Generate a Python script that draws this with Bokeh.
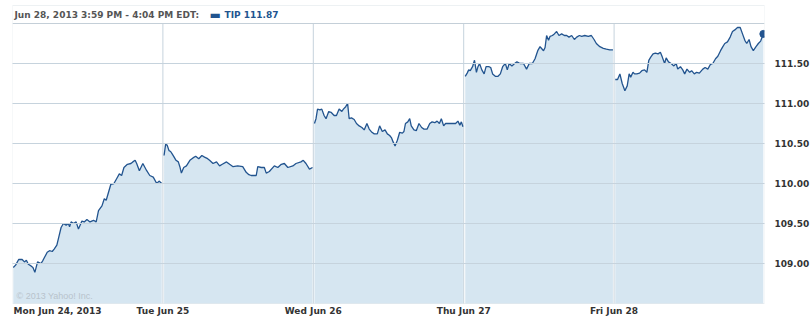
from bokeh.plotting import figure
from bokeh.models import Range1d, FixedTicker, NumeralTickFormatter, Label, Span, BoxAnnotation
from bokeh.core.properties import value
from bokeh.embed import file_html
from bokeh.resources import INLINE

# ---- data ---------------------------------------------------------------
ticker_name = "TIP"
last_price = 111.87
header_text = "Jun 28, 2013 3:59 PM - 4:04 PM EDT:"
day_labels = ["Mon Jun 24, 2013", "Tue Jun 25", "Wed Jun 26", "Thu Jun 27", "Fri Jun 28"]
session_minutes = 390  # 9:30 -> 16:00
y_ticks = [109.0, 109.5, 110.0, 110.5, 111.0, 111.5]

# minutes after the 9:30 open, and price
mon_minutes = [2, 8, 16, 25, 31, 36, 41, 48, 53, 58, 65, 74, 79, 90, 96, 103, 108, 115, 120, 126,
               132, 139, 145, 148, 152, 158, 165, 171, 180, 186, 193, 201, 210, 217, 223, 232, 238, 243,
               249, 255, 263, 270, 277, 283, 289, 298, 307, 312, 318, 322, 329, 338, 348, 356, 365, 374,
               380, 387]
mon_prices = [108.95, 108.98, 109.05, 109.05, 109.02, 109.04, 108.99, 108.97, 108.95, 108.89,
              109.02, 109.00, 109.04, 109.14, 109.16, 109.15, 109.18, 109.23, 109.33, 109.45,
              109.50, 109.48, 109.50, 109.46, 109.52, 109.50, 109.52, 109.43, 109.53, 109.52,
              109.55, 109.52, 109.54, 109.52, 109.66, 109.72, 109.81, 109.79, 109.89, 109.99,
              110.00, 110.06, 110.12, 110.10, 110.20, 110.24, 110.25, 110.27, 110.29, 110.25,
              110.16, 110.25, 110.16, 110.10, 110.08, 110.00, 110.03, 110.00]

tue_minutes = [3, 7, 11, 16, 20, 24, 28, 34, 40, 44, 48, 54, 61, 70, 78, 85, 93, 101, 108, 116,
               121, 130, 139, 147, 154, 165, 173, 182, 194, 207, 216, 223, 229, 242, 246, 255, 263,
               268, 276, 289, 298, 307, 315, 324, 337, 345, 358, 364, 371, 380, 388]
tue_prices = [110.35, 110.49, 110.48, 110.41, 110.40, 110.37, 110.34, 110.29, 110.27, 110.21,
              110.13, 110.20, 110.22, 110.29, 110.32, 110.34, 110.31, 110.35, 110.33, 110.31,
              110.29, 110.25, 110.27, 110.22, 110.24, 110.27, 110.24, 110.21, 110.22, 110.21,
              110.14, 110.11, 110.10, 110.10, 110.21, 110.20, 110.20, 110.13, 110.15, 110.22,
              110.20, 110.24, 110.25, 110.20, 110.22, 110.25, 110.27, 110.29, 110.25, 110.18,
              110.20]

wed_minutes = [3, 7, 11, 17, 22, 28, 33, 40, 46, 54, 60, 67, 74, 78, 84, 89, 93, 99, 106, 112,
               119, 126, 132, 139, 145, 152, 158, 166, 172, 179, 186, 192, 198, 203, 207, 212, 218,
               224, 231, 235, 239, 245, 250, 254, 261, 267, 274, 281, 287, 295, 302, 308, 315, 321,
               327, 332, 338, 343, 351, 360, 369, 375, 380, 384, 388]
wed_prices = [110.75, 110.81, 110.93, 110.92, 110.93, 110.85, 110.81, 110.90, 110.89, 110.85,
              110.85, 110.93, 110.90, 110.93, 110.96, 111.00, 110.81, 110.82, 110.80, 110.75,
              110.72, 110.70, 110.67, 110.75, 110.68, 110.64, 110.62, 110.62, 110.72, 110.65,
              110.67, 110.62, 110.60, 110.57, 110.52, 110.47, 110.54, 110.64, 110.63, 110.65,
              110.75, 110.77, 110.81, 110.72, 110.67, 110.66, 110.75, 110.70, 110.68, 110.68,
              110.75, 110.77, 110.76, 110.78, 110.75, 110.81, 110.72, 110.75, 110.75, 110.75,
              110.75, 110.78, 110.73, 110.77, 110.71]

thu_minutes = [4, 9, 13, 17, 23, 28, 33, 37, 41, 47, 53, 58, 65, 70, 75, 82, 89, 95, 101, 108,
               113, 118, 125, 132, 138, 146, 155, 163, 170, 178, 185, 192, 198, 207, 211, 215, 220,
               224, 230, 235, 241, 247, 254, 261, 267, 273, 280, 287, 293, 300, 306, 314, 323, 331,
               338, 344, 353, 362, 370, 379, 387]
thu_prices = [111.34, 111.38, 111.42, 111.41, 111.46, 111.54, 111.39, 111.46, 111.50, 111.42,
              111.37, 111.46, 111.46, 111.45, 111.37, 111.34, 111.34, 111.37, 111.46, 111.50,
              111.42, 111.50, 111.47, 111.50, 111.52, 111.50, 111.50, 111.43, 111.50, 111.50,
              111.56, 111.66, 111.71, 111.66, 111.70, 111.85, 111.79, 111.84, 111.85, 111.87,
              111.90, 111.85, 111.87, 111.85, 111.85, 111.83, 111.85, 111.80, 111.83, 111.85,
              111.84, 111.85, 111.84, 111.85, 111.80, 111.75, 111.71, 111.69, 111.68, 111.67,
              111.67]

fri_minutes = [3, 9, 15, 21, 28, 34, 39, 43, 49, 53, 59, 66, 72, 79, 85, 90, 95, 101, 107, 114,
               120, 125, 131, 135, 141, 148, 155, 161, 165, 172, 178, 183, 189, 196, 201, 208, 214,
               221, 230, 236, 243, 250, 256, 263, 269, 276, 282, 287, 294, 301, 307, 313, 320, 327,
               333, 339, 344, 350, 355, 361, 368, 374, 380, 387]
fri_prices = [111.30, 111.30, 111.37, 111.25, 111.16, 111.22, 111.37, 111.33, 111.39, 111.37,
              111.37, 111.38, 111.41, 111.42, 111.39, 111.54, 111.58, 111.62, 111.63, 111.62,
              111.64, 111.58, 111.50, 111.57, 111.52, 111.50, 111.47, 111.50, 111.43, 111.46,
              111.42, 111.37, 111.43, 111.39, 111.41, 111.37, 111.39, 111.38, 111.43, 111.45,
              111.43, 111.49, 111.50, 111.56, 111.59, 111.66, 111.71, 111.75, 111.77, 111.83,
              111.90, 111.92, 111.95, 111.95, 111.87, 111.79, 111.75, 111.80, 111.71, 111.66,
              111.71, 111.75, 111.78, 111.87]

days = [(mon_minutes, mon_prices), (tue_minutes, tue_prices), (wed_minutes, wed_prices),
        (thu_minutes, thu_prices), (fri_minutes, fri_prices)]

# ---- layout / styling ---------------------------------------------------
PX_PER_UNIT = 80.0                      # vertical pixels per 1.00 of price
y_min, y_top_scale = 108.5, 112.0       # price area of the chart
y_box_top = y_top_scale + 18 / PX_PER_UNIT      # header strip
y_frame_bottom = y_min - 17 / PX_PER_UNIT       # room for the day labels
y_frame_top = y_box_top + 1 / PX_PER_UNIT
LINE = "#22548f"
FILL = "#cce0ee"
GRID = "#c6d3dd"
BORDER = "#c4cfd8"
TXT = "#333333"
FONT = "DejaVu Sans"

p = figure(width=812, height=320, x_range=Range1d(0, len(days)),
           y_range=Range1d(y_frame_bottom, y_frame_top), y_axis_location="right",
           output_backend="svg", toolbar_location=None,
           min_border_left=12, min_border_right=45, min_border_top=4, min_border_bottom=0)
p.outline_line_color = None
p.background_fill_color = "white"
p.border_fill_color = "white"

# day separators
seps = list(range(1, len(days)))
p.segment(x0=seps, y0=y_min, x1=seps, y1=y_top_scale, line_color=GRID, line_width=1)

for d, (mins, prices) in enumerate(days):
    xs = [d + m / session_minutes for m in mins]
    p.varea(x=xs, y1=y_min, y2=prices, fill_color=FILL, fill_alpha=0.8)
    p.line(xs, prices, line_color=LINE, line_width=1.3)

last_x = len(days) - 1 + fri_minutes[-1] / session_minutes
p.scatter(x=[last_x], y=[fri_prices[-1]], size=7, color=LINE)

# chart box + header separator
p.add_layout(BoxAnnotation(left=0, right=len(days), bottom=y_min, top=y_box_top,
                           fill_alpha=0, line_color=BORDER, line_width=1))
p.add_layout(Span(location=y_top_scale, dimension="width", line_color=BORDER, line_width=1))

# axes
p.xaxis.visible = False
p.xgrid.visible = False
p.yaxis.ticker = FixedTicker(ticks=y_ticks)
p.yaxis.formatter = NumeralTickFormatter(format="0.00")
p.yaxis.axis_line_color = None
p.yaxis.major_tick_line_color = None
p.yaxis.minor_tick_line_color = None
p.yaxis.major_label_text_font = FONT
p.yaxis.major_label_text_font_style = "bold"
p.yaxis.major_label_text_font_size = "9px"
p.yaxis.major_label_text_color = TXT
p.yaxis.major_label_standoff = 4
p.ygrid.grid_line_color = GRID
p.ygrid.level = "overlay"

# day labels under the chart
p.text(x=[0], y=[y_min], text=[day_labels[0]], x_offset=1, y_offset=7,
       text_align="left", text_baseline="middle", text_font=value(FONT),
       text_font_style="bold", text_font_size="9px", text_color=TXT)
p.text(x=seps, y=[y_min] * len(seps), text=day_labels[1:], y_offset=7,
       text_align="center", text_baseline="middle", text_font=value(FONT),
       text_font_style="bold", text_font_size="9px", text_color=TXT)

# header
hy = (y_top_scale + y_box_top) / 2
p.add_layout(Label(x=0, y=hy, x_offset=2, text=header_text, text_align="left",
                   text_baseline="middle", text_font=FONT, text_font_style="bold",
                   text_font_size="9px", text_color="#555555"))
p.add_layout(Label(x=0, y=hy, x_offset=197, text="\u25ac", text_align="left",
                   text_baseline="middle", text_font=FONT, text_font_size="12px",
                   text_color=LINE))
p.add_layout(Label(x=0, y=hy, x_offset=212, text=f"{ticker_name} {last_price:.2f}",
                   text_align="left", text_baseline="middle", text_font=FONT,
                   text_font_style="bold", text_font_size="9px", text_color=LINE))

# copyright
p.add_layout(Label(x=0, y=y_min, x_offset=4, y_offset=3, text="\u00a9 2013 Yahoo! Inc.",
                   text_align="left", text_baseline="bottom", text_font="Liberation Sans",
                   text_font_size="9px", text_color="#b8c3cc"))

open("out.html", "w").write(file_html(p, INLINE))
